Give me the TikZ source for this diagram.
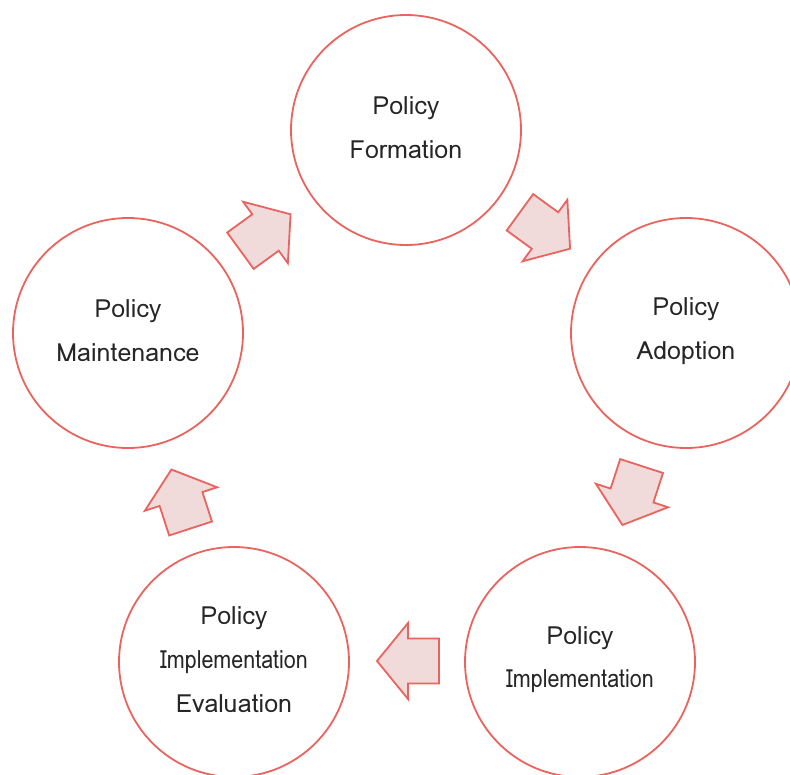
\documentclass[tikz,border=0pt]{standalone}
\usepackage{fontspec}
\newfontfamily\lomafont[Script=Thai]{Loma}
\usetikzlibrary{calc}
\definecolor{ring}{HTML}{E9645E}
\definecolor{pinkfill}{HTML}{F0DADA}
\tikzset{
  stage/.style={circle, draw=ring, line width=1.8pt, minimum size=230pt, inner sep=0pt, fill=white,
    align=center, font=\lomafont\fontsize{25}{44}\selectfont, text=black!85},
  blockarrow/.style={draw=ring, fill=pinkfill, line width=1.8pt, line join=miter},
  lift/.style={yshift=2pt},
}
\newcommand{\squeeze}[1]{\scalebox{0.86}[1]{#1}}
\begin{document}
\begin{tikzpicture}[x=1pt,y=-1pt]
\useasboundingbox (0,0) rectangle (790,774);
\node[stage] (form) at (406,130) {};
\node[stage] (adop) at (686,333) {};
\node[stage] (impl) at (580,662) {};
\node[stage] (eval) at (234,662) {};
\node[stage] (main) at (128,333) {};
\node[stage, draw=none, fill=none, lift] (formt) at (form.center) {Policy\\Formation};
\node[stage, draw=none, fill=none, lift] (adopt) at (adop.center) {Policy\\Adoption};
\node[stage, draw=none, fill=none, lift] (implt) at (impl.center) {Policy\\[-1pt]\squeeze{Implementation}};
\node[stage, draw=none, fill=none, lift] (evalt) at (eval.center) {Policy\\\squeeze{Implementation}\\Evaluation};
\node[stage, draw=none, fill=none, lift] (maint) at (main.center) {Policy\\Maintenance};
\foreach \cx/\cy/\ang [count=\i] in {265.5/232.5/36, 545/230.5/-36, 632/495.5/-108, 408/661/180, 181/499/108}{
  \coordinate (arr\i) at (\cx,\cy);
  \draw[blockarrow, shift={(arr\i)}, rotate=\ang]
    (31,0) -- (0,38) -- (0,22.5) -- (-31,22.5) -- (-31,-22.5) -- (0,-22.5) -- (0,-38) -- cycle;
}
\end{tikzpicture}
\end{document}
